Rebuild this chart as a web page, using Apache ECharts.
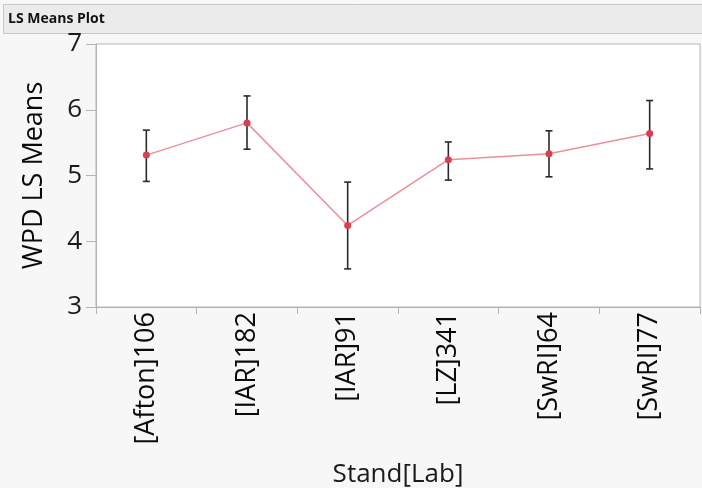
<!DOCTYPE html>
<html><head><meta charset="utf-8">
<script src="https://cdn.jsdelivr.net/npm/echarts@6/dist/echarts.min.js"></script>
<style>html,body{margin:0;padding:0;background:#f7f7f7;}#c{width:702px;height:488px;}</style>
</head><body><div id="c"></div>
<script>
const categories = ['[Afton]106','[IAR]182','[IAR]91','[LZ]341','[SwRI]64','[SwRI]77'];
const means = [5.31, 5.80, 4.24, 5.24, 5.33, 5.64];
const upper = [5.69, 6.21, 4.90, 5.51, 5.68, 6.14];
const lower = [4.91, 5.40, 3.58, 4.93, 4.98, 5.10];
const yTicks = [3, 4, 5, 6, 7];

const font = '"Open Sans", "Noto Sans", sans-serif';
const chart = echarts.init(document.getElementById('c'), null, {renderer: 'canvas'});
chart.setOption({
  backgroundColor: '#f7f7f7',
  animation: false,
  graphic: [
    {type: 'rect', shape: {x: 3.5, y: 4.5, width: 702, height: 29}, style: {fill: '#ebebeb', stroke: '#c8c8c8', lineWidth: 1}, z: 0},
    {type: 'text', x: 8, y: 19, style: {text: 'LS Means Plot', fontFamily: font, fontWeight: 'bold', fontSize: 14, fill: '#111', verticalAlign: 'middle'}}
  ],
  grid: {left: 96, right: 2, top: 44, bottom: 181, show: true, backgroundColor: '#ffffff', borderColor: '#b4b4b4', borderWidth: 1, containLabel: false, outerBoundsMode: 'none'},
  xAxis: {
    type: 'category', data: categories, boundaryGap: true,
    name: 'Stand[Lab]', nameLocation: 'middle', nameGap: 155,
    nameTextStyle: {fontFamily: font, fontSize: 26, color: '#1a1a1a'},
    axisLine: {lineStyle: {color: '#b4b4b4'}},
    axisTick: {show: true, length: 7, lineStyle: {color: '#b4b4b4'}, alignWithLabel: false},
    axisLabel: {rotate: 90, margin: 5, fontFamily: font, fontSize: 27, color: '#0a0a0a'},
    splitLine: {show: false}
  },
  yAxis: {
    type: 'value', min: 3, max: 7, interval: 1,
    name: 'WPD LS Means', nameLocation: 'middle', nameGap: 48,
    nameTextStyle: {fontFamily: font, fontSize: 27, color: '#0a0a0a'},
    axisLine: {show: true, lineStyle: {color: '#b4b4b4'}},
    axisTick: {show: true, length: 10, lineStyle: {color: '#b4b4b4'}},
    axisLabel: {margin: 14, fontFamily: font, fontSize: 26, color: '#1a1a1a'},
    splitLine: {show: false}
  },
  series: [
    {
      type: 'custom',
      data: categories.map((c, i) => [i, lower[i], upper[i]]),
      renderItem: function (params, api) {
        const x = api.value(0);
        const lo = api.coord([x, api.value(1)]);
        const hi = api.coord([x, api.value(2)]);
        const hw = 3.5;
        const st = {stroke: '#2a2a2a', lineWidth: 1.6};
        return {type: 'group', children: [
          {type: 'line', shape: {x1: lo[0], y1: lo[1], x2: hi[0], y2: hi[1]}, style: st},
          {type: 'line', shape: {x1: lo[0]-hw, y1: lo[1], x2: lo[0]+hw, y2: lo[1]}, style: st},
          {type: 'line', shape: {x1: hi[0]-hw, y1: hi[1], x2: hi[0]+hw, y2: hi[1]}, style: st}
        ]};
      },
      z: 2
    },
    {
      type: 'line', data: means,
      lineStyle: {color: '#ec8f97', width: 1.5},
      symbol: 'circle', symbolSize: 7,
      itemStyle: {color: '#d8404e'},
      z: 3
    }
  ]
});
</script></body></html>
